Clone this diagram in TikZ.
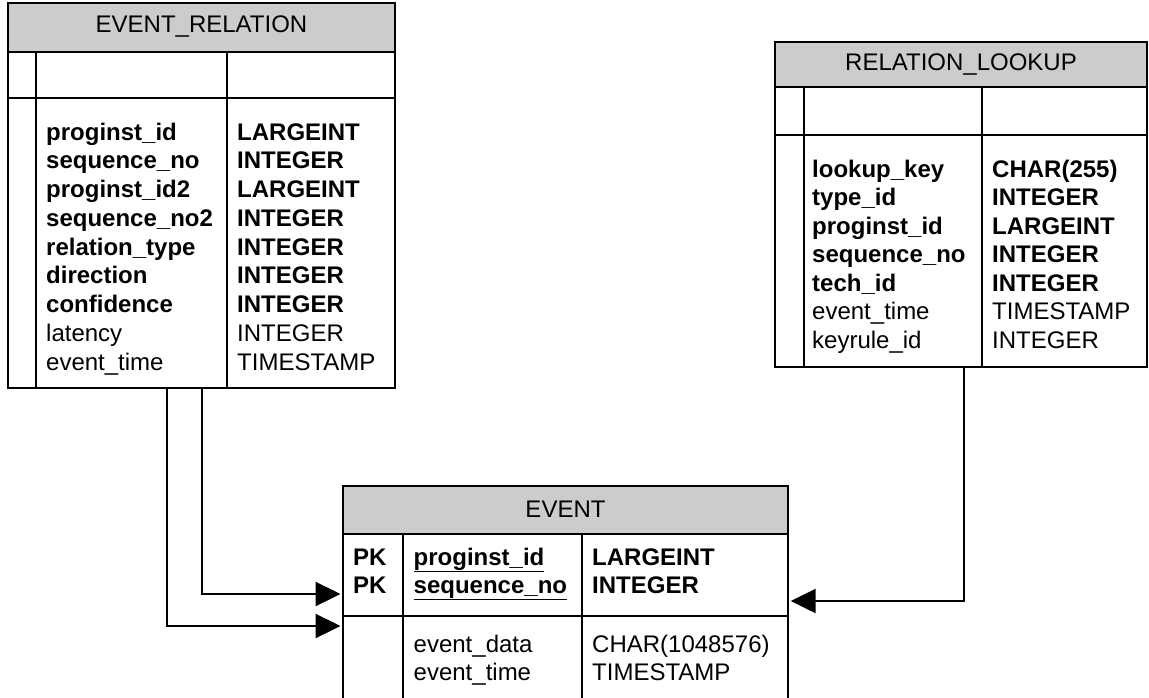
\documentclass[tikz,border=0pt]{standalone}
\usepackage{fontspec}
\setmainfont{Liberation Sans}
\usetikzlibrary{arrows.meta,calc}
\definecolor{hdrgray}{RGB}{204,204,204}
\begin{document}
\begin{tikzpicture}[x=1pt,y=-1pt,
  tbl/.style={draw, line width=1.3pt, inner sep=0pt, outer sep=0pt, anchor=north west, rectangle},
  grid/.style={line width=1.3pt},
  hdr/.style={fill=hdrgray},
  conn/.style={line width=2.4pt, -{Triangle[length=25pt,width=24pt]}},
  txt/.style={anchor=base west, inner sep=0pt, font=\fontsize{24}{28}\selectfont},
  btxt/.style={anchor=base west, inner sep=0pt, font=\fontsize{24}{28}\selectfont\bfseries},
  ttl/.style={anchor=center, inner sep=0pt, font=\fontsize{24}{28}\selectfont},
]
\useasboundingbox (0,0) rectangle (1149,697);

% ---------- EVENT_RELATION ----------
\fill[hdr] (8,3) rectangle (395,52);
\node[tbl, minimum width=387pt, minimum height=385pt] (er) at (8,3) {};
\draw[grid] (8,52) -- (395,52) (8,98) -- (395,98) (36,52) -- (36,388) (227,52) -- (227,388);
\node[ttl] (er-title) at (201.5,27) {EVENT\_RELATION};
\foreach \n/\t [count=\i from 0] in {proginst\_id/LARGEINT, sequence\_no/INTEGER, proginst\_id2/LARGEINT, sequence\_no2/INTEGER, relation\_type/INTEGER, direction/INTEGER, confidence/INTEGER}{
  \node[btxt] (er-n\i) at (46,{140+28.75*\i}) {\n};
  \node[btxt] (er-t\i) at (237,{140+28.75*\i}) {\t};
}
\foreach \n/\t [count=\i from 7] in {latency/INTEGER, event\_time/TIMESTAMP}{
  \node[txt] (er-n\i) at (46,{140+28.75*\i}) {\n};
  \node[txt] (er-t\i) at (237,{140+28.75*\i}) {\t};
}

% ---------- RELATION_LOOKUP ----------
\fill[hdr] (775,42) rectangle (1147,87);
\node[tbl, minimum width=372pt, minimum height=325pt] (rl) at (775,42) {};
\draw[grid] (775,87) -- (1147,87) (775,135) -- (1147,135) (804,87) -- (804,367) (982,87) -- (982,367);
\node[ttl] (rl-title) at (961,65) {RELATION\_LOOKUP};
\foreach \n/\t [count=\i from 0] in {lookup\_key/CHAR(255), type\_id/INTEGER, proginst\_id/LARGEINT, sequence\_no/INTEGER, tech\_id/INTEGER}{
  \node[btxt] (rl-n\i) at (812,{177+28.5*\i}) {\n};
  \node[btxt] (rl-t\i) at (992,{177+28.5*\i}) {\t};
}
\foreach \n/\t [count=\i from 5] in {event\_time/TIMESTAMP, keyrule\_id/INTEGER}{
  \node[txt] (rl-n\i) at (812,{177+28.5*\i}) {\n};
  \node[txt] (rl-t\i) at (992,{177+28.5*\i}) {\t};
}

% ---------- EVENT ----------
\fill[hdr] (343,486) rectangle (788,534);
\node[tbl, minimum width=445pt, minimum height=240pt] (ev) at (343,486) {};
\draw[grid] (343,534) -- (788,534) (343,616) -- (788,616) (403,534) -- (403,726) (582,534) -- (582,726);
\node[ttl] (ev-title) at (565.5,509) {EVENT};
\node[btxt] (ev-pk0) at (353,565) {PK};
\node[btxt] (ev-pk1) at (353,593) {PK};
\node[btxt] (ev-n0) at (413.5,565) {\underline{proginst\_id}};
\node[btxt] (ev-n1) at (413.5,593) {\underline{sequence\_no}};
\node[btxt] (ev-t0) at (592,565) {LARGEINT};
\node[btxt] (ev-t1) at (592,593) {INTEGER};
\node[txt] (ev-n2) at (413.5,652) {event\_data};
\node[txt] (ev-n3) at (413.5,680) {event\_time};
\node[txt] (ev-t2) at (592,652) {CHAR(1048576)};
\node[txt] (ev-t3) at (592,680) {TIMESTAMP};

% ---------- connectors ----------
\draw[conn] ($(er.south west)+(194,0)$) |- ($(ev.north west)+(-2.5,108)$);
\draw[conn] ($(er.south west)+(159,0)$) |- ($(ev.north west)+(-2.5,140)$);
\draw[conn] ($(rl.south west)+(189,0)$) |- ($(ev.north east)+(2.7,115)$);
\end{tikzpicture}
\end{document}
